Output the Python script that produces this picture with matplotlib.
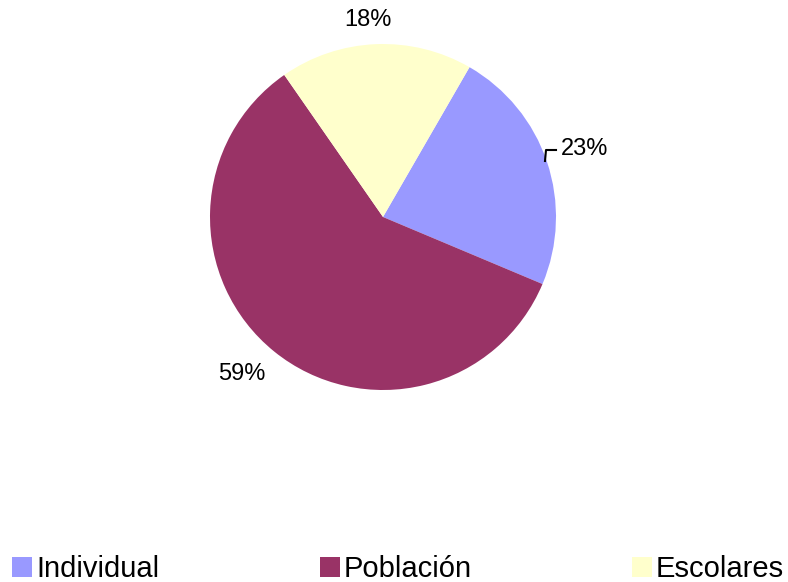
import numpy as np
import matplotlib
matplotlib.use("Agg")
import matplotlib.pyplot as plt
from matplotlib.patches import Rectangle

plt.rcParams['font.family'] = ['Liberation Sans', 'DejaVu Sans']

# data
categories = ["Individual", "Población", "Escolares"]
shares = [23, 59, 18]
colors = ["#9999FF", "#993366", "#FFFFCC"]

# figure laid out in pixel units (y up)
W, H = 788, 582
fig = plt.figure(figsize=(W / 100, H / 100), dpi=100)
ax = fig.add_axes([0, 0, 1, 1])

cx, cy, r = 383, H - 217, 173
wedges, _ = ax.pie(shares, colors=colors, startangle=60, counterclock=False,
                   center=(cx, cy), radius=r, frame=True,
                   wedgeprops=dict(linewidth=0))
ax.set_xlim(0, W)
ax.set_ylim(0, H)
ax.axis("off")

# percentage labels outside the slices (distance in radii, angle nudge in deg)
label_dist = [1.23, 1.22, 1.14]
label_nudge = [0, -3, 2]
for w, s, d, n in zip(wedges, shares, label_dist, label_nudge):
    mid = np.deg2rad((w.theta1 + w.theta2) / 2 + n)
    x = cx + d * r * np.cos(mid)
    y = cy + d * r * np.sin(mid)
    ax.text(x, y, f"{s}%", ha="center", va="center", fontsize=17)

# leader line for the 23% label
ax.plot([545, 546, 556], [H - 161, H - 150, H - 150], color="black", lw=1.5)

# legend along the bottom
legend_x = [12, 320, 632]
for lx, name, c in zip(legend_x, categories, colors):
    ax.add_patch(Rectangle((lx, H - 577), 20, 20, facecolor=c, edgecolor="none"))
    ax.text(lx + 24, H - 577, name, ha="left", va="baseline", fontsize=21)

fig.savefig("out.png", dpi=100)
